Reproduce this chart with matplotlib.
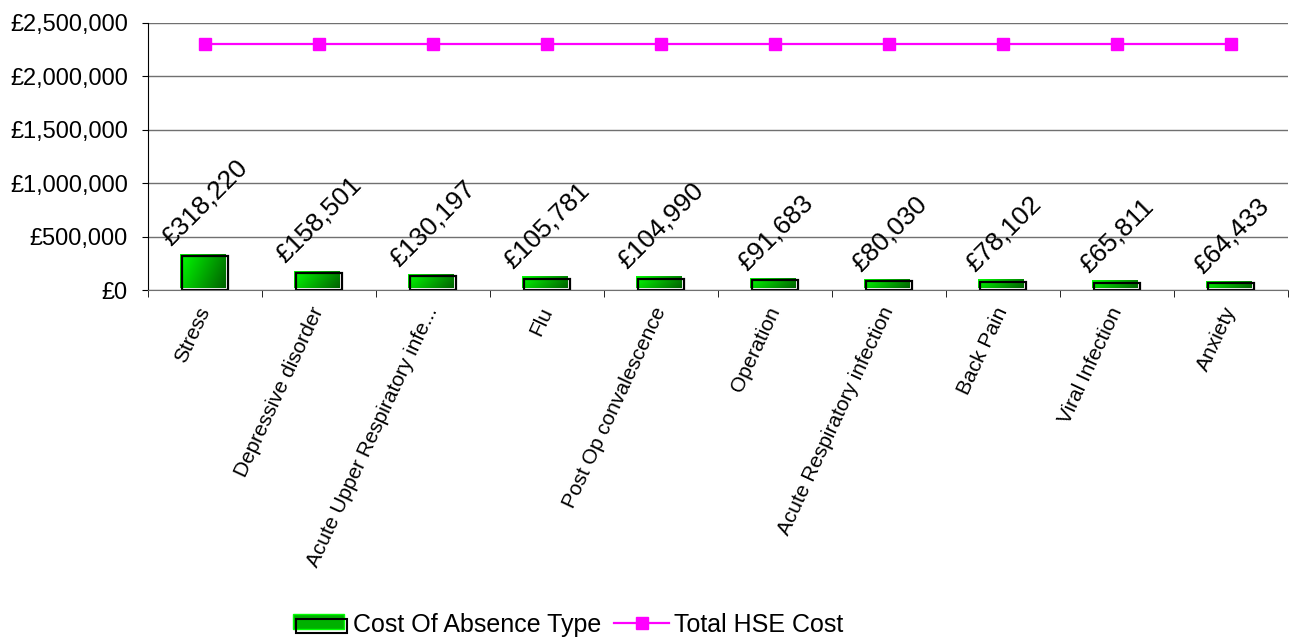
import numpy as np
import matplotlib
matplotlib.use("Agg")
import matplotlib.pyplot as plt
from matplotlib.patches import Rectangle
from matplotlib.lines import Line2D
from matplotlib.legend_handler import HandlerBase
from matplotlib.transforms import ScaledTranslation
from matplotlib.ticker import FuncFormatter, MultipleLocator

plt.rcParams['font.family'] = ['Liberation Sans', 'DejaVu Sans']

# absence types and their cost
categories = ["Stress", "Depressive disorder", "Acute Upper Respiratory infe...",
              "Flu", "Post Op convalescence", "Operation",
              "Acute Respiratory infection", "Back Pain", "Viral Infection", "Anxiety"]
cost = [318220, 158501, 130197, 105781, 104990, 91683, 80030, 78102, 65811, 64433]
total_hse = [2300000] * len(categories)


class ShadowBarHandler(HandlerBase):
    # green box with a black outline pushed down and to the right
    def create_artists(self, legend, orig_handle, xd, yd, width, height, fontsize, trans):
        green = Rectangle((-xd, -yd + 2), width - 3, height - 2, facecolor="#00b000",
                          edgecolor="#00ff00", linewidth=1.0, transform=trans)
        box = Rectangle((-xd + 2, -yd - 1), width - 3, height - 2, fill=False,
                        edgecolor="black", linewidth=1.5, transform=trans)
        return [green, box]


fig = plt.figure(figsize=(12.92, 6.37), dpi=100)
ax = fig.add_axes([0.1146, 0.5447, 0.8824, 0.4192])

x = np.arange(len(categories))
w = 0.4

# green gradient, bright top-left to dark bottom-right
gy, gx = np.mgrid[0:1:50j, 0:1:50j]
t = np.clip(0.75 * gx + 0.25 * gy, 0, 1)
grad = np.zeros((50, 50, 3))
grad[..., 1] = 1.0 - 0.62 * t
shift = ax.transData + ScaledTranslation(-2.5 / 100, 2.5 / 100, fig.dpi_scale_trans)
for xi, v in zip(x, cost):
    im = ax.imshow(grad, extent=(xi - w / 2, xi + w / 2, 0, v), origin="upper",
                   aspect="auto", zorder=3, interpolation="bilinear")
    im.set_transform(shift)
    ax.add_patch(Rectangle((xi - w / 2, 0), w, v, fill=False, edgecolor="black",
                           linewidth=1.6, zorder=4))
    ax.annotate("£{:,.0f}".format(v), (xi, v), xytext=(0, 4), textcoords="offset points",
                rotation=45, ha="center", va="bottom", fontsize=19, zorder=5)

ax.plot(x, total_hse, color="#ff00ff", marker="s", markersize=8, linewidth=1.6, zorder=5)

ax.set_xlim(-0.5, len(categories) - 0.5)
ax.set_ylim(0, 2500000)
ax.yaxis.set_major_locator(MultipleLocator(500000))
ax.yaxis.set_major_formatter(FuncFormatter(lambda v, p: "£{:,.0f}".format(v)))
ax.grid(axis="y", color="#707070", linewidth=1.0, zorder=0)
ax.set_axisbelow(True)
for s in ["top", "right"]:
    ax.spines[s].set_visible(False)
ax.spines["left"].set_color("black")
ax.spines["bottom"].set_color("#707070")
ax.tick_params(axis="y", labelsize=17, length=4.5, pad=10, color="black")

ax.set_xticks(x)
ax.set_xticklabels(categories, rotation=65, ha="right", va="center",
                   rotation_mode="anchor", fontsize=15)
ax.tick_params(axis="x", which="major", length=0, pad=13)
ax.set_xticks(np.arange(-0.5, len(categories)), minor=True)
ax.tick_params(axis="x", which="minor", length=5, color="black")

bar_handle = Rectangle((0, 0), 1, 1)
line_handle = Line2D([], [], color="#ff00ff", marker="s", markersize=8, linewidth=1.6)
fig.legend([bar_handle, line_handle], ["Cost Of Absence Type", "Total HSE Cost"],
           loc="center", bbox_to_anchor=(0.44, 0.019), ncol=2, frameon=False,
           fontsize=18, handlelength=2.2, columnspacing=0.5, handletextpad=0.2,
           handler_map={Rectangle: ShadowBarHandler()})

fig.savefig("out.png", dpi=100)
